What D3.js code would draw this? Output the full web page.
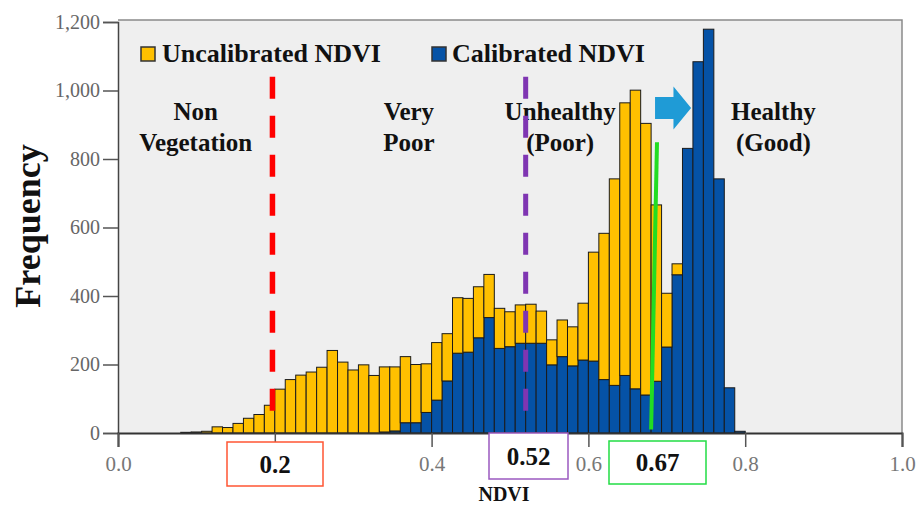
<!DOCTYPE html>
<html>
<head>
<meta charset="utf-8">
<script src="https://cdn.jsdelivr.net/npm/d3@7"></script>
<style>
  html, body { margin: 0; padding: 0; background: #ffffff; }
  svg { display: block; }
</style>
</head>
<body>
<svg id="chart" width="919" height="508"></svg>
<script>
// ---------------- DATA ----------------
// Histogram bins of width 1/75 NDVI starting at 0.0 (60 bins up to 0.8)
const binCount = 60;
const binWidth = 1 / 75;
// Calibrated NDVI counts (blue, bottom of stack)
const calibrated = [
  0,0,0,0,0, 0,0,0,0,0, 0,0,0,0,0, 0,0,0,0,0, 0,0,0,0,0,
  3,6,30,30,60, 96,152,233,236,278, 337,247,252,262,262,
  262,199,223,196,213, 210,156,139,168,129, 111,151,251,462,831,
  1084,1179,742,132,5
];
// Uncalibrated NDVI counts (yellow, stacked on top)
const uncalibrated = [
  0,0,0,0,0, 0,2,3,5,18, 16,28,43,54,81, 128,156,169,178,192,
  241,207,184,199,168, 190,187,193,170,142, 168,138,162,157,149,
  126,117,102,112,114, 94,73,107,114,166, 318,427,603,796,872,
  793,515,157,32,0, 0,0,0,0,0
];
const seriesNames = ["Uncalibrated NDVI", "Calibrated NDVI"];
const seriesColors = ["#FFC000", "#0552A6"];
const xTicks = [0.0, 0.4, 0.6, 0.8, 1.0];
const xTickLabels = ["0.0", "0.4", "0.6", "0.8", "1.0"];
const yTicks = [0, 200, 400, 600, 800, 1000, 1200];
// Thresholds
const thresholds = [0.2, 0.52, 0.67];
const thresholdLabels = ["0.2", "0.52", "0.67"];
const zoneLabels = [
  {lines: ["Non", "Vegetation"], x: 0.099},
  {lines: ["Very", "Poor"], x: 0.371},
  {lines: ["Unhealthy", "(Poor)"], x: 0.564},
  {lines: ["Healthy", "(Good)"], x: 0.836}
];

// ---------------- LAYOUT ----------------
const svg = d3.select("#chart");
const pLeft = 118, pRight = 902, pTop = 20, pBottom = 433;
const x = d3.scaleLinear().domain([0, 1]).range([pLeft, pRight]);
const y = d3.scaleLinear().domain([0, 1200]).range([pBottom, 22]);
const serif = "'Liberation Serif', 'Times New Roman', serif";

// plot background
svg.append("rect")
  .attr("x", pLeft).attr("y", pTop)
  .attr("width", pRight - pLeft).attr("height", pBottom - pTop)
  .attr("fill", "#EFEFEF");
// frame top & right
svg.append("path")
  .attr("d", `M${pLeft},${pTop}H${pRight}V${pBottom}`)
  .attr("fill", "none").attr("stroke", "#8a8a8a").attr("stroke-width", 1.5);

// ---------------- BARS ----------------
const table = d3.range(binCount).map(i => ({
  x0: i * binWidth, x1: (i + 1) * binWidth,
  cal: calibrated[i], uncal: uncalibrated[i]
}));
const stack = d3.stack().keys(["cal", "uncal"]);
const layers = stack(table);
const layerColor = {cal: seriesColors[1], uncal: seriesColors[0]};

svg.append("g").selectAll("g")
  .data(layers)
  .join("g")
  .attr("fill", d => layerColor[d.key])
  .selectAll("rect")
  .data(d => d.filter(s => s[1] - s[0] > 0))
  .join("rect")
  .attr("x", s => x(s.data.x0))
  .attr("width", s => x(s.data.x1) - x(s.data.x0))
  .attr("y", s => y(s[1]))
  .attr("height", s => y(s[0]) - y(s[1]))
  .attr("stroke", "#1b1b1b")
  .attr("stroke-width", 1);

// ---------------- AXES ----------------
const yAxis = d3.axisLeft(y).tickValues(yTicks).tickSize(15).tickPadding(3)
  .tickFormat(d3.format(","));
const gy = svg.append("g").attr("transform", `translate(${pLeft},0)`).call(yAxis);
gy.select(".domain").attr("stroke", "#444").attr("stroke-width", 1.5);
gy.selectAll(".tick line").attr("stroke", "#555").attr("stroke-width", 1.5);
gy.selectAll(".tick text")
  .attr("font-family", serif).attr("font-size", 20).attr("fill", "#666");

const xAxis = d3.axisBottom(x).tickValues([...xTicks, 0.2]).tickSize(14).tickPadding(9)
  .tickFormat((d) => { const i = xTicks.indexOf(d); return i >= 0 ? xTickLabels[i] : ""; });
const gx = svg.append("g").attr("transform", `translate(0,${pBottom})`).call(xAxis);
gx.select(".domain").attr("stroke", "#333").attr("stroke-width", 2);
gx.selectAll(".tick line").attr("stroke", "#555").attr("stroke-width", 1.5);
gx.selectAll(".tick text")
  .attr("font-family", serif).attr("font-size", 21).attr("fill", "#777");

// axis titles
svg.append("text")
  .attr("transform", "translate(40,226) rotate(-90)")
  .attr("text-anchor", "middle")
  .attr("font-family", serif).attr("font-weight", "bold").attr("font-size", 36)
  .attr("fill", "#111")
  .text("Frequency");
svg.append("text")
  .attr("x", 504).attr("y", 501)
  .attr("text-anchor", "middle")
  .attr("font-family", serif).attr("font-weight", "bold").attr("font-size", 20)
  .attr("fill", "#111")
  .text("NDVI");

// ---------------- LEGEND ----------------
const legendItems = [
  {name: seriesNames[0], color: seriesColors[0], sx: 141, tx: 162},
  {name: seriesNames[1], color: seriesColors[1], sx: 432, tx: 452}
];
const lg = svg.append("g");
legendItems.forEach(it => {
  lg.append("rect").attr("x", it.sx).attr("y", 47).attr("width", 14).attr("height", 14)
    .attr("fill", it.color).attr("stroke", "#333").attr("stroke-width", 1.5);
  lg.append("text").attr("x", it.tx).attr("y", 62)
    .attr("font-family", serif).attr("font-weight", "bold").attr("font-size", 26)
    .attr("fill", "#111").text(it.name);
});

// ---------------- ANNOTATIONS ----------------
// zone labels
zoneLabels.forEach(z => {
  const t = svg.append("text")
    .attr("text-anchor", "middle")
    .attr("font-family", serif).attr("font-weight", "bold").attr("font-size", 25)
    .attr("fill", "#111");
  z.lines.forEach((ln, i) => {
    t.append("tspan").attr("x", x(z.x)).attr("y", 120 + i * 31).text(ln);
  });
});

// red dashed line (0.2)
svg.append("line")
  .attr("x1", x(0.197)).attr("x2", x(0.197))
  .attr("y1", y(1040)).attr("y2", y(40))
  .attr("stroke", "#FF0000").attr("stroke-width", 5.5)
  .attr("stroke-dasharray", "22,17");
// purple dashed line (0.52)
svg.append("line")
  .attr("x1", x(0.52)).attr("x2", x(0.52))
  .attr("y1", y(1040)).attr("y2", y(40))
  .attr("stroke", "#7F35B2").attr("stroke-width", 5)
  .attr("stroke-dasharray", "22,17");
// green line (0.67)
svg.append("line")
  .attr("x1", x(0.6875)).attr("y1", y(849))
  .attr("x2", x(0.680)).attr("y2", y(10))
  .attr("stroke", "#22DD22").attr("stroke-width", 4);

// blue block arrow
const ax0 = x(0.685), axh = x(0.7085), axt = x(0.731), ay = y(949);
svg.append("path")
  .attr("d", `M${ax0},${ay - 11}H${axh}V${ay - 21.5}L${axt},${ay}L${axh},${ay + 21.5}V${ay + 11}H${ax0}Z`)
  .attr("fill", "#1F9BD6");

// threshold boxes below axis
const boxes = [
  {x0: 227, x1: 323, y0: 442, y1: 486, ty: 473, color: "#FF5533"},
  {x0: 489, x1: 568, y0: 433, y1: 479, ty: 465, color: "#9B59C0"},
  {x0: 609, x1: 706, y0: 441, y1: 484, ty: 471, color: "#22DD44"}
];
boxes.forEach((b, i) => {
  svg.append("rect").attr("x", b.x0).attr("y", b.y0)
    .attr("width", b.x1 - b.x0).attr("height", b.y1 - b.y0)
    .attr("fill", "#ffffff").attr("stroke", b.color).attr("stroke-width", 1.5);
  svg.append("text").attr("x", (b.x0 + b.x1) / 2).attr("y", b.ty)
    .attr("text-anchor", "middle")
    .attr("font-family", serif).attr("font-weight", "bold").attr("font-size", 25)
    .attr("fill", "#111").text(thresholdLabels[i]);
});
</script>
</body>
</html>
